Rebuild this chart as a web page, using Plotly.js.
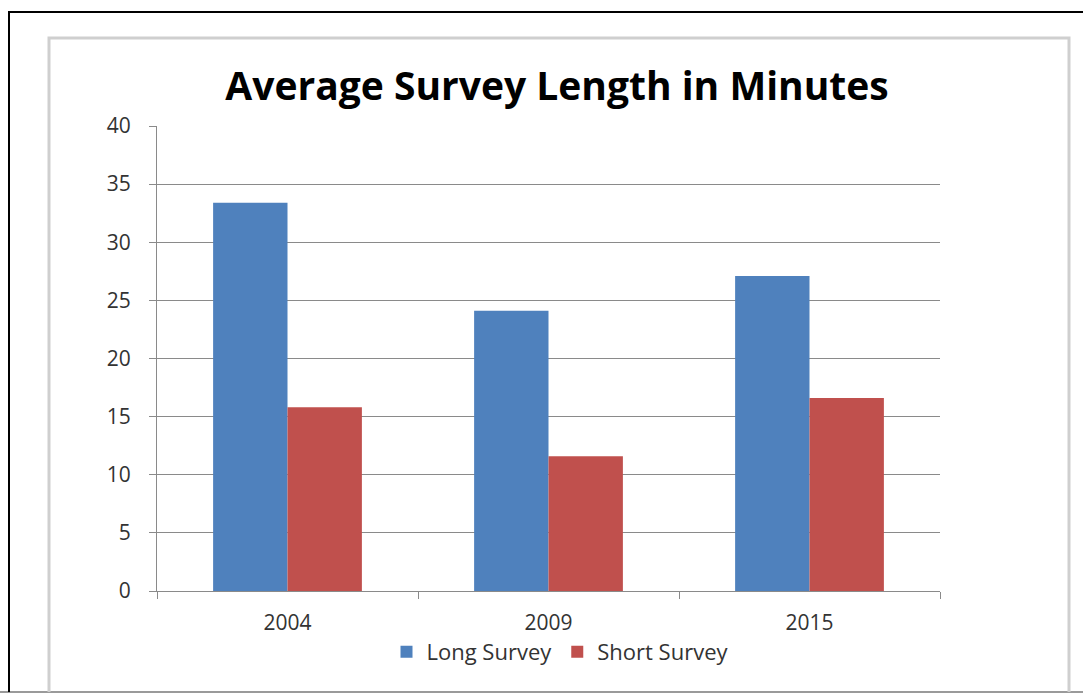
<!DOCTYPE html>
<html>
<head>
<meta charset="utf-8">
<script src="https://cdn.plot.ly/plotly-3.0.1.min.js"></script>
<style>html,body{margin:0;padding:0;background:#fff;}#chart{width:1083px;height:699px;}</style>
</head>
<body>
<div id="chart"></div>
<script>
var years = ["2004", "2009", "2015"];
var longSurvey = [33.4, 24.1, 27.1];
var shortSurvey = [15.8, 11.6, 16.6];
var yTicks = [0, 5, 10, 15, 20, 25, 30, 35, 40];

var W = 1083, H = 699;
var L = 157, R = 940, T = 126, B = 591;
function px(x) { return (x - L) / (R - L); }
function py(y) { return (B - y) / (B - T); }

var FONT = "'Open Sans', Lato, sans-serif";

var traces = [
  { type: "bar", name: "Long Survey", x: years, y: longSurvey, marker: { color: "#4F81BD" } },
  { type: "bar", name: "Short Survey", x: years, y: shortSurvey, marker: { color: "#C0504D" } }
];

var layout = {
  width: W, height: H,
  margin: { l: L, r: W - R, t: T, b: H - B, pad: 0 },
  paper_bgcolor: "#ffffff", plot_bgcolor: "#ffffff",
  barmode: "group", bargap: 0.43, bargroupgap: 0,
  font: { family: FONT, color: "#333333", size: 21 },
  title: {
    text: "<b>Average Survey Length in Minutes</b>",
    font: { family: FONT, size: 39, color: "#000000" },
    x: px(557), xanchor: "center", xref: "paper",
    y: 1 - 86 / H, yanchor: "middle"
  },
  xaxis: {
    type: "category",
    showgrid: false, zeroline: false,
    showline: true, linecolor: "#8a8a8a", linewidth: 1,
    ticks: "outside", tickson: "boundaries", ticklen: 7, tickcolor: "#8a8a8a",
    ticklabelstandoff: 13,
    tickfont: { family: FONT, size: 21, color: "#333333" },
    fixedrange: true
  },
  yaxis: {
    range: [0, 40], tickvals: yTicks,
    showgrid: true, gridcolor: "#8a8a8a", gridwidth: 1,
    zeroline: false,
    showline: true, linecolor: "#8a8a8a", linewidth: 1,
    ticks: "outside", ticklen: 7, tickcolor: "#8a8a8a",
    ticklabelstandoff: 14,
    tickfont: { family: FONT, size: 21, color: "#333333" },
    fixedrange: true
  },
  showlegend: true,
  legend: {
    orientation: "h", x: px(560), xanchor: "center", y: py(652), yanchor: "middle",
    font: { family: FONT, size: 22, color: "#333333" },
    itemwidth: 30, tracegroupgap: 0, bgcolor: "rgba(0,0,0,0)"
  },
  shapes: [
    { type: "line", xref: "paper", yref: "paper", x0: px(0), x1: px(W), y0: py(692), y1: py(692), line: { color: "#9a9a9a", width: 2 } },
    { type: "path", xref: "paper", yref: "paper",
      path: "M " + px(49) + "," + py(692) + " L " + px(49) + "," + py(38) + " L " + px(1069) + "," + py(38) + " L " + px(1069) + "," + py(692),
      line: { color: "#cfcfcf", width: 3 } },
    { type: "path", xref: "paper", yref: "paper",
      path: "M " + px(9) + "," + py(692) + " L " + px(9) + "," + py(12) + " L " + px(W + 5) + "," + py(12),
      line: { color: "#000000", width: 2 } }
  ]
};

Plotly.newPlot("chart", traces, layout, { displayModeBar: false, staticPlot: true });
</script>
</body>
</html>
